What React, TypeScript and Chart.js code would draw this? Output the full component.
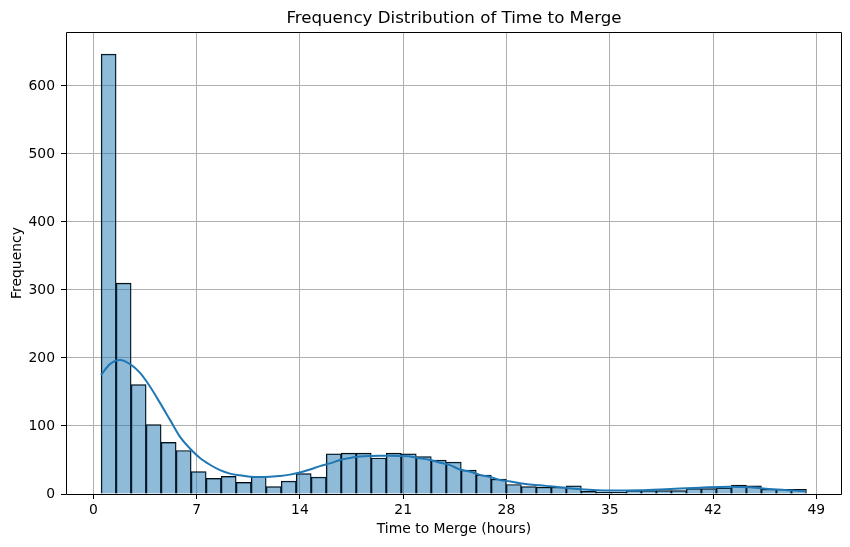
import React, { useEffect, useRef } from "react";
import { Chart, registerables } from "chart.js";

Chart.register(...registerables);

// Histogram: 47 bins of equal width starting at BIN_START
const BIN_START = 0.53;
const BIN_WIDTH = 1.017;
const COUNTS = [
  647, 310, 161, 102, 76, 64, 33, 23, 26, 17, 26, 11, 19, 30, 25, 59, 60, 60, 53, 60,
  59, 55, 50, 47, 35, 28, 22, 14, 11, 10, 10, 12, 4, 3, 3, 5, 5, 5, 5, 8,
  8, 9, 13, 12, 7, 7, 7,
];

// KDE curve
const KDE_X = [
  0.52, 1.13, 1.81, 2.49, 3.17, 3.84, 4.52, 5.2, 5.88, 6.55, 7.23, 7.91, 8.59, 9.27,
  9.94, 10.62, 11.3, 11.97, 12.65, 13.33, 14.0, 14.68, 15.36, 16.04, 16.72, 17.4,
  18.07, 18.75, 19.43, 20.1, 20.79, 21.5, 22.14, 22.82, 23.5, 24.17, 24.85, 25.53,
  26.2, 26.9, 27.57, 28.25, 28.92, 29.6, 30.28, 30.96, 31.6, 32.99, 35.0, 37.0, 39.1,
  41.1, 43.1, 44.5, 46.06, 48.28,
];
const KDE_Y = [
  175, 191, 197, 191, 178, 158, 134, 109, 84, 67, 53, 43, 35, 30, 27.5, 25.5, 25,
  25.5, 26.5, 28.5, 31.5, 36, 41, 45, 50, 53, 55, 56, 56.4, 56.4, 56, 55, 52.5, 50,
  46, 42.5, 36, 33, 28, 25, 20.6, 18.5, 15.7, 14, 12.8, 11.3, 10, 7, 5, 5.4, 7.4,
  9.3, 10.8, 9.8, 7, 4,
];

const X_TICKS = [0, 7, 14, 21, 28, 35, 42, 49];
const Y_TICKS = [0, 100, 200, 300, 400, 500, 600];

const TITLE = "Frequency Distribution of Time to Merge";
const X_LABEL = "Time to Merge (hours)";
const Y_LABEL = "Frequency";

export default function App() {
  const ref = useRef<HTMLCanvasElement | null>(null);

  useEffect(() => {
    const canvas = ref.current;
    if (!canvas) return;

    const barData = COUNTS.map((c, i) => ({
      x: BIN_START + (i + 0.5) * BIN_WIDTH,
      y: c,
    }));
    const kdeData = KDE_X.map((x, i) => ({ x, y: KDE_Y[i] }));

    const framePlugin = {
      id: "frameAndTitle",
      afterDraw(chart: any) {
        const { ctx, chartArea } = chart;
        const { left, right, top, bottom } = chartArea;
        ctx.save();
        ctx.strokeStyle = "#000";
        ctx.lineWidth = 1;
        ctx.beginPath();
        ctx.rect(
          Math.floor(left) + 0.5,
          Math.floor(top) + 0.5,
          Math.round(right - left) - 1,
          Math.round(bottom - top)
        );
        ctx.stroke();
        ctx.fillStyle = "#000";
        ctx.font = '16.67px "DejaVu Sans"';
        ctx.textAlign = "center";
        ctx.textBaseline = "alphabetic";
        ctx.fillText(TITLE, (left + right) / 2, 23);
        ctx.restore();
      },
    };

    const chart = new Chart(canvas, {
      type: "bar",
      data: {
        datasets: [
          {
            type: "line",
            data: kdeData,
            borderColor: "#1f77b4",
            borderWidth: 2,
            pointRadius: 0,
            fill: false,
            tension: 0.4,
            cubicInterpolationMode: "monotone",
            order: 0,
          } as any,
          {
            type: "bar",
            data: barData,
            backgroundColor: "rgba(31,119,180,0.5)",
            borderColor: "#000",
            borderWidth: 0.8,
            borderSkipped: "start",
            barPercentage: 1,
            categoryPercentage: 1,
            order: 1,
          } as any,
        ],
      },
      options: {
        responsive: false,
        animation: false,
        devicePixelRatio: 1,
        layout: { padding: { top: 32, right: 8, left: 0, bottom: 0 } },
        plugins: {
          legend: { display: false },
          tooltip: { enabled: false },
          title: { display: false },
        },
        scales: {
          x: {
            type: "linear",
            min: -1.85,
            max: 50.74,
            offset: false,
            afterBuildTicks: (scale: any) => {
              scale.ticks = X_TICKS.map((v) => ({ value: v }));
            },
            afterFit: (scale: any) => {
              scale.height = 53;
            },
            ticks: {
              color: "#000",
              font: { family: "DejaVu Sans", size: 13.9 },
              padding: 3,
              maxRotation: 0,
              autoSkip: false,
              callback: (v: any) => String(v),
            },
            grid: {
              offset: false,
              color: "#b0b0b0",
              lineWidth: 1,
              tickColor: "#000",
              tickLength: 5,
              tickWidth: 1,
            },
            border: { display: false },
            title: {
              display: true,
              text: X_LABEL,
              color: "#000",
              font: { family: "DejaVu Sans", size: 13.9 },
              padding: { top: 0, bottom: 9 },
            },
          },
          y: {
            type: "linear",
            min: 0,
            max: 679.4,
            afterBuildTicks: (scale: any) => {
              scale.ticks = Y_TICKS.map((v) => ({ value: v }));
            },
            afterFit: (scale: any) => {
              scale.width = 66;
            },
            ticks: {
              color: "#000",
              font: { family: "DejaVu Sans", size: 13.9 },
              padding: 6,
              autoSkip: false,
              callback: (v: any) => String(v),
            },
            grid: {
              color: "#b0b0b0",
              lineWidth: 1,
              tickColor: "#000",
              tickLength: 5,
              tickWidth: 1,
            },
            border: { display: false },
            title: {
              display: true,
              text: Y_LABEL,
              color: "#000",
              font: { family: "DejaVu Sans", size: 13.9 },
              padding: { top: 9.3, bottom: 0 },
            },
          },
        },
      },
      plugins: [framePlugin],
    } as any);

    return () => chart.destroy();
  }, []);

  return (
    <div style={{ position: "absolute", left: 0, top: 0, width: 850, height: 547, background: "#fff" }}>
      <canvas ref={ref} width={850} height={547} style={{ display: "block" }} />
    </div>
  );
}
